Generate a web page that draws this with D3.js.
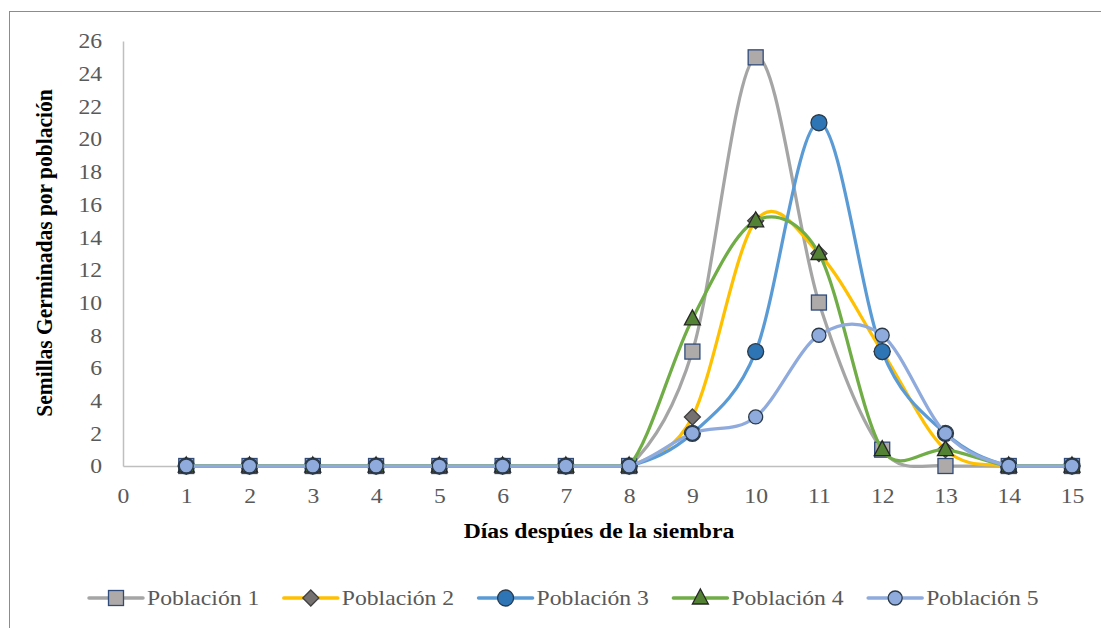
<!DOCTYPE html>
<html>
<head>
<meta charset="utf-8">
<script src="https://cdn.jsdelivr.net/npm/d3@7"></script>
<style>
  body { margin: 0; background: #fff; }
  svg { display: block; font-family: "Liberation Serif", "Times New Roman", serif; }
</style>
</head>
<body>
<svg id="chart" width="1101" height="628"></svg>
<script>
// days after sowing
const days = [1, 2, 3, 4, 5, 6, 7, 8, 9, 10, 11, 12, 13, 14, 15];
const pob1 = [0, 0, 0, 0, 0, 0, 0, 0, 7, 25, 10, 1, 0, 0, 0];
const pob2 = [0, 0, 0, 0, 0, 0, 0, 0, 3, 15, 13, 7, 1, 0, 0];
const pob3 = [0, 0, 0, 0, 0, 0, 0, 0, 2, 7, 21, 7, 2, 0, 0];
const pob4 = [0, 0, 0, 0, 0, 0, 0, 0, 9, 15, 13, 1, 1, 0, 0];
const pob5 = [0, 0, 0, 0, 0, 0, 0, 0, 2, 3, 8, 8, 2, 0, 0];
const seriesNames = ["Población 1", "Población 2", "Población 3", "Población 4", "Población 5"];
const xTicks = d3.range(0, 16);
const yTicks = d3.range(0, 27, 2);

const styles = [
    { line: "#a5a5a5", fill: "#aeaaaa", stroke: "#2f4b7c", shape: "square" },
    { line: "#ffc000", fill: "#767171", stroke: "#404040", shape: "diamond" },
    { line: "#5b9bd5", fill: "#2e75b6", stroke: "#2b3a4a", shape: "circle" },
    { line: "#70ad47", fill: "#548235", stroke: "#262626", shape: "triangle" },
    { line: "#8faadc", fill: "#8faadc", stroke: "#2b3a4a", shape: "circle5" }
];

const series = [pob1, pob2, pob3, pob4, pob5].map((vals, i) => ({
    name: seriesNames[i],
    points: days.map((d, j) => ({ x: d, y: vals[j] })),
    style: styles[i]
}));

const svg = d3.select("#chart");
const plot = { left: 123, right: 1072, top: 41, bottom: 466 };
const fontSize = "21.5px";
const stretch = "scale(1.1,1)";

// outer chart frame
svg.append("rect")
    .attr("x", 9.5).attr("y", 11.5)
    .attr("width", 1100).attr("height", 630)
    .attr("fill", "none")
    .attr("stroke", "#8c8c8c");

const x = d3.scaleLinear().domain([0, 15]).range([plot.left, plot.right]);
const y = d3.scaleLinear().domain([0, 26]).range([plot.bottom, plot.top]);

// axes
const xAxis = svg.append("g")
    .attr("transform", `translate(0, ${plot.bottom})`)
    .call(d3.axisBottom(x).tickValues(xTicks).tickSize(0).tickPadding(22).tickFormat(d3.format("d")));
const yAxis = svg.append("g")
    .attr("transform", `translate(${plot.left}, 0)`)
    .call(d3.axisLeft(y).tickValues(yTicks).tickSize(0).tickPadding(19).tickFormat(d3.format("d")));

[xAxis, yAxis].forEach(a => {
    a.select(".domain").attr("stroke", "#bfbfbf").attr("stroke-width", 1.5);
    a.selectAll("text")
        .attr("fill", "#595959")
        .attr("transform", stretch)
        .style("font-size", fontSize)
        .style("font-family", "Liberation Serif, Times New Roman, serif");
});

// axis titles
svg.append("text")
    .attr("transform", `translate(599, 538) ${stretch}`)
    .attr("text-anchor", "middle")
    .style("font-size", fontSize)
    .style("font-weight", "bold")
    .text("Días despúes de la siembra");

svg.append("text")
    .attr("transform", `translate(52, 253) ${stretch} rotate(-90)`)
    .attr("text-anchor", "middle")
    .style("font-size", fontSize)
    .style("font-weight", "bold")
    .text("Semillas Germinadas por población");

function drawMarker(g, shape, cx, cy, st) {
    let m;
    if (shape === "square") {
        m = g.append("rect").attr("x", cx - 7.5).attr("y", cy - 7.5).attr("width", 15).attr("height", 15);
    } else if (shape === "diamond") {
        m = g.append("path").attr("d", `M${cx},${cy - 8}L${cx + 8},${cy}L${cx},${cy + 8}L${cx - 8},${cy}Z`);
    } else if (shape === "triangle") {
        m = g.append("path").attr("d", `M${cx},${cy - 9}L${cx + 8},${cy + 6}L${cx - 8},${cy + 6}Z`);
    } else if (shape === "circle") {
        m = g.append("circle").attr("cx", cx).attr("cy", cy).attr("r", 8);
    } else {
        m = g.append("circle").attr("cx", cx).attr("cy", cy).attr("r", 7);
    }
    m.attr("fill", st.fill).attr("stroke", st.stroke).attr("stroke-width", 1.3);
}

// spreadsheet-style smoothed line: bezier with 1/6 tension, control arms
// capped at half the segment, and flat runs kept straight
function smoothPath(pts) {
    const p = pts.map(d => [x(d.x), y(d.y)]);
    const dist = (a, b) => Math.hypot(a[0] - b[0], a[1] - b[1]);
    const path = d3.path();
    path.moveTo(p[0][0], p[0][1]);
    for (let i = 0; i < p.length - 1; i++) {
        const p0 = p[Math.max(i - 1, 0)], p1 = p[i], p2 = p[i + 1], p3 = p[Math.min(i + 2, p.length - 1)];
        const flat = (p1[1] === p2[1]) && (p0[1] === p1[1] || p2[1] === p3[1]);
        if (flat) {
            path.lineTo(p2[0], p2[1]);
            continue;
        }
        const d02 = dist(p0, p2), d12 = dist(p1, p2), d13 = dist(p1, p3);
        let f1 = 1 / 6, f2 = 1 / 6;
        if (d02 / 6 >= d12 / 2) f1 = d12 / (2 * d02);
        if (d13 / 6 >= d12 / 2) f2 = d12 / (2 * d13);
        path.bezierCurveTo(
            p1[0] + (p2[0] - p0[0]) * f1, p1[1] + (p2[1] - p0[1]) * f1,
            p2[0] - (p3[0] - p1[0]) * f2, p2[1] - (p3[1] - p1[1]) * f2,
            p2[0], p2[1]);
    }
    return path.toString();
}

const marks = svg.append("g");
series.forEach(s => {
    const g = marks.append("g");
    g.append("path")
        .attr("d", smoothPath(s.points))
        .attr("fill", "none")
        .attr("stroke", s.style.line)
        .attr("stroke-width", 3.25);
    s.points.forEach(p => drawMarker(g, s.style.shape, x(p.x), y(p.y), s.style));
});

// legend
const legend = svg.append("g").attr("transform", "translate(0, 598)");
let lx = 89;
series.forEach(s => {
    const item = legend.append("g").attr("transform", `translate(${lx}, 0)`);
    item.append("line")
        .attr("x1", 0).attr("x2", 54)
        .attr("stroke", s.style.line)
        .attr("stroke-width", 3.5)
        .attr("stroke-linecap", "round");
    drawMarker(item, s.style.shape, 27, 0, s.style);
    const t = item.append("text")
        .attr("transform", `translate(58, 7) ${stretch}`)
        .attr("fill", "#595959")
        .style("font-size", fontSize)
        .text(s.name);
    lx += 58 + t.node().getComputedTextLength() * 1.1 + 24.5;
});
</script>
</body>
</html>
